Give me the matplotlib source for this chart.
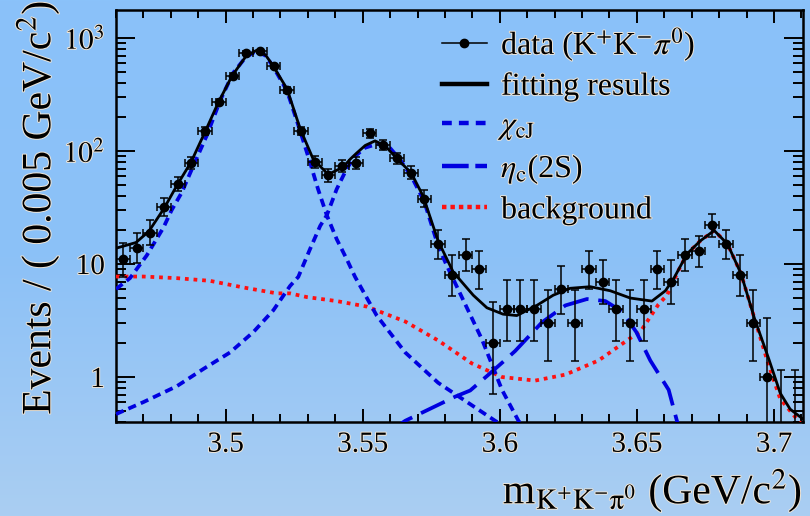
import numpy as np
import matplotlib
matplotlib.use("Agg")
import matplotlib.pyplot as plt
from matplotlib.lines import Line2D
from matplotlib.ticker import MultipleLocator, FixedLocator, FixedFormatter, NullFormatter, LogLocator
import matplotlib.patheffects as pe

plt.rcParams["font.family"] = ["Liberation Serif", "DejaVu Serif"]
plt.rcParams["mathtext.fontset"] = "stix"

# -----------------------------------------------
# data: K+K-pi0 mass, bin width 0.005 GeV/c^2
# -----------------------------------------------
mass = np.round(np.arange(3.4625, 3.71, 0.005), 4)
counts = [11, 14, 19, 32, 51, 78, 151, 273, 464, 736,
          762, 569, 347, 151, 80, 61, 74, 78, 143, 113,
          86, 64, 38, 15, 8, 12, 9, 2, 4, 4,
          4, 3, 6, 3, 9, 7, 4, 3, 4, 9,
          7, 12, 13, 22, 15, 8, 3, 1, 0, 0]
zero_upper = 1.148

# fit curves
fit_m = [3.4600, 3.4673, 3.4720, 3.4775, 3.4823, 3.4874, 3.4925, 3.4972, 3.5023, 3.5074,
         3.5111, 3.5145, 3.5173, 3.5224, 3.5272, 3.5319, 3.5374, 3.5428, 3.5455, 3.5476,
         3.5509, 3.5545, 3.5582, 3.5626, 3.5677, 3.5720, 3.5775, 3.5830, 3.5903, 3.5953,
         3.6012, 3.6062, 3.6135, 3.6195, 3.6257, 3.6330, 3.6403, 3.6476, 3.6555, 3.6604,
         3.6634, 3.6683, 3.6731, 3.6782, 3.6831, 3.6880, 3.6929, 3.6981, 3.7023, 3.7059,
         3.7103]
fit_v = [13.8, 15.5, 19.5, 31, 50, 80, 148, 265, 461, 690,
         775, 710, 569, 354, 157, 85, 62, 72, 85, 95,
         112, 123, 111, 85, 64, 40, 16, 8.5, 5.3, 4.1,
         3.6, 3.5, 4.3, 5.3, 6.1, 6.3, 5.8, 5.0, 4.7, 5.8,
         7.4, 12.3, 16, 19.8, 15, 8.2, 3.3, 1.45, 0.72, 0.52,
         0.43]

chic1_m = [3.4600, 3.4651, 3.4712, 3.4773, 3.4803, 3.4840, 3.4882, 3.4931, 3.4980, 3.5027,
           3.5074, 3.5111, 3.5145, 3.5173, 3.5224, 3.5272, 3.5308, 3.5337, 3.5369, 3.5405,
           3.5442, 3.5472, 3.5551, 3.5655, 3.5775, 3.5983, 3.6100]
chic1_v = [6.0, 7.5, 11.9, 21, 30, 43, 74, 137, 280, 490,
           680, 765, 700, 560, 340, 150, 79, 46, 27, 16.6,
           11, 7.7, 3.5, 1.65, 0.89, 0.41, 0.28]

chic2_m = [3.4600, 3.4700, 3.4822, 3.4919, 3.5016, 3.5101, 3.5174, 3.5235, 3.5265, 3.5308,
           3.5345, 3.5369, 3.5405, 3.5442, 3.5472, 3.5509, 3.5556, 3.5600, 3.5636, 3.5677,
           3.5724, 3.5775, 3.5804, 3.5849, 3.5935, 3.6008, 3.6068, 3.6100]
chic2_v = [0.47, 0.60, 0.83, 1.18, 1.65, 2.5, 3.9, 6.4, 7.7, 13.6,
           21.8, 27, 46, 70, 90, 107, 116, 106, 84, 60,
           36, 14.5, 10, 5.9, 2.15, 0.77, 0.41, 0.33]

etac_m = [3.5600, 3.5655, 3.5837, 3.5892, 3.5959, 3.6026, 3.6056, 3.6154, 3.6239, 3.6318,
          3.6385, 3.6446, 3.6498, 3.6549, 3.6616, 3.6646, 3.6660]
etac_v = [0.33, 0.41, 0.67, 0.76, 1.05, 1.46, 1.7, 3.05, 4.3, 4.9,
          4.7, 3.8, 2.5, 1.4, 0.77, 0.41, 0.33]

bkg_m = [3.4600, 3.4700, 3.4822, 3.4943, 3.5065, 3.5187, 3.5235, 3.5296, 3.5405, 3.5515,
         3.5655, 3.5776, 3.5898, 3.6008, 3.6129, 3.6239, 3.6360, 3.6482, 3.6512, 3.6579,
         3.6610, 3.6652, 3.6683, 3.6731, 3.6782, 3.6831, 3.6880, 3.6929, 3.6981, 3.7023,
         3.7072, 3.7100]
bkg_v = [7.75, 7.75, 7.5, 7.1, 6.2, 5.5, 5.5, 5.1, 4.7, 4.2,
         3.1, 2.1, 1.32, 1.0, 0.93, 1.05, 1.4, 2.26, 2.5, 4.4,
         5.3, 8.8, 12.3, 16, 19.8, 15, 8.2, 3.3, 1.27, 0.64,
         0.46, 0.38]

# -----------------------------------------------
# figure + gradient background
# -----------------------------------------------
fig = plt.figure(figsize=(8.1, 5.16), dpi=100)
bg = fig.add_axes([0, 0, 1, 1], zorder=0)
top_c = np.array([138, 194, 250]) / 255
mid_c = np.array([140, 193, 247]) / 255
bot_c = np.array([170, 206, 242]) / 255
t = np.linspace(0, 1, 256)[:, None]
grad = np.where(t < 0.5, top_c + (mid_c - top_c) * (t / 0.5),
                mid_c + (bot_c - mid_c) * ((t - 0.5) / 0.5))
bg.imshow(grad[:, None, :], aspect="auto", extent=[0, 1, 0, 1], origin="upper")
bg.axis("off")

ax = fig.add_axes([116 / 810, 1 - 422 / 516, 687 / 810, 412 / 516], zorder=1)
ax.set_facecolor("none")
ax.set_yscale("log")
ax.set_xlim(3.46, 3.7106)
ax.set_ylim(0.4, 1770)

blue = "#0000e0"
red = "#ff1010"
ax.plot(bkg_m, bkg_v, color=red, lw=2.7, linestyle=(0, (1.0, 1.3)), zorder=3)
ax.plot(chic1_m, chic1_v, color=blue, lw=2.7, linestyle=(0, (2.2, 1.4)), zorder=3)
ax.plot(chic2_m, chic2_v, color=blue, lw=2.7, linestyle=(0, (2.2, 1.4)), zorder=3)
ax.plot(etac_m, etac_v, color=blue, lw=2.7, linestyle=(0, (7.0, 2.6)), zorder=3)
ax.plot(fit_m, fit_v, color="black", lw=2.0, zorder=4)

# data with Poisson (Gehrels) errors
n = np.array(counts, dtype=float)
nz = n > 0
lo = n[nz] * (1 - 1 / (9 * n[nz]) - 1 / (3 * np.sqrt(n[nz]))) ** 3
hi = n[nz] + 1 + np.sqrt(n[nz] + 0.75)
ax.errorbar(mass[nz], n[nz], yerr=[n[nz] - lo, hi - n[nz]], xerr=0.0025,
            fmt="o", color="black", ms=6, elinewidth=1.1, capsize=2.6,
            capthick=1.1, zorder=5)
ax.vlines(mass[~nz], 0.4, zero_upper, color="black", lw=1.1, zorder=5)
ax.plot(mass[~nz], [zero_upper] * int((~nz).sum()), linestyle="none", marker="_",
        ms=5.2, mew=1.1, color="black", zorder=5)

# axes style
for s in ax.spines.values():
    s.set_linewidth(1.8)
ax.xaxis.set_major_locator(FixedLocator([3.5, 3.55, 3.6, 3.65, 3.7]))
ax.xaxis.set_major_formatter(FixedFormatter(["3.5", "3.55", "3.6", "3.65", "3.7"]))
ax.xaxis.set_minor_locator(MultipleLocator(0.01))
ax.yaxis.set_major_locator(FixedLocator([1, 10, 100, 1000]))
ax.yaxis.set_major_formatter(FixedFormatter(["1", "10", "$10^{2}$", "$10^{3}$"]))
ax.yaxis.set_minor_locator(LogLocator(base=10, subs=np.arange(2, 10)))
ax.yaxis.set_minor_formatter(NullFormatter())
ax.tick_params(axis="both", which="both", direction="in", top=True, right=True,
               labelsize=21, width=1.4)
ax.tick_params(axis="x", which="major", length=9.5, pad=7)
ax.tick_params(axis="x", which="minor", length=5.5)
ax.tick_params(axis="y", which="major", length=13.5, pad=8)
ax.tick_params(axis="y", which="minor", length=7.5)

txt_fx = [pe.withStroke(linewidth=1.4, foreground="#efe6d8")]
for lab in ax.get_xticklabels() + ax.get_yticklabels():
    lab.set_path_effects(txt_fx)

fig.text(38 / 810, 0.998, "Events / ( 0.005 GeV/c$^{2}$)", rotation=90,
         ha="center", va="top", fontsize=30, path_effects=txt_fx)
fig.text(802 / 810, 25 / 516, r"m$_{\mathrm{K^{+}K^{-}\pi^{0}}}$ (GeV/c$^{2}$)",
         ha="right", va="center", fontsize=30, path_effects=txt_fx)

handles = [
    Line2D([], [], color="black", marker="o", ms=6, lw=1.1),
    Line2D([], [], color="black", lw=3.2),
    Line2D([], [], color=blue, lw=3.2, linestyle=(0, (2.2, 1.6))),
    Line2D([], [], color=blue, lw=3.2, linestyle=(0, (6.0, 1.5))),
    Line2D([], [], color=red, lw=3.2, linestyle=(0, (1.0, 0.9))),
]
labels = ["data (K$^{+}$K$^{-}$$\\pi^{0}$)", "fitting results", r"$\chi_{\rm cJ}$",
          r"$\eta_{\rm c}$(2S)", "background"]
leg = ax.legend(handles, labels, loc="upper left", bbox_to_anchor=(0.4745, 0.962),
                frameon=False, prop={"family": ["Liberation Serif", "DejaVu Serif"], "size": 23},
                borderpad=0, borderaxespad=0,
                handlelength=1.4, handletextpad=0.45, labelspacing=0.3)
for tx in leg.get_texts():
    tx.set_path_effects(txt_fx)

fig.savefig("out.png", dpi=100)
